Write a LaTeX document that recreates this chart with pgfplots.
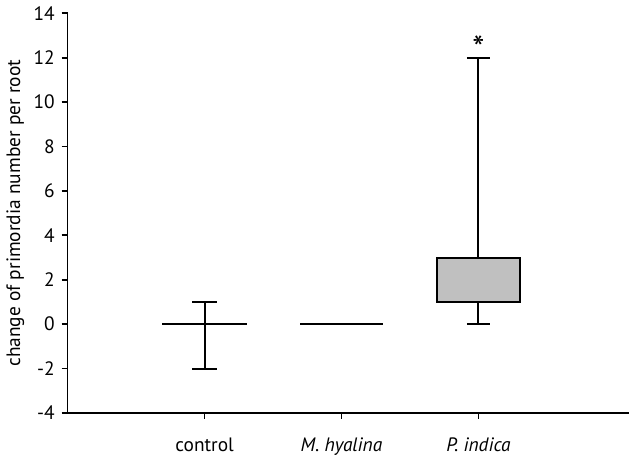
\documentclass[border=0pt]{standalone}
\usepackage{fontspec}
\setmainfont{PT Sans}
\usepackage{pgfplots}
\pgfplotsset{compat=1.18}
\definecolor{boxgray}{RGB}{192,192,192}

\begin{document}
\fontsize{9.7}{11}\selectfont
\begin{tikzpicture}
\begin{axis}[
    width=281pt, height=200pt,
    scale only axis,
    axis lines=left,
    axis line style={-, line width=0.9pt},
    xmin=0, xmax=4.1,
    ymin=-4, ymax=14,
    ytick={-4,-2,0,2,4,6,8,10,12,14},
    xtick={1,2,3},
    xticklabels={control, \textit{M. hyalina}, \textit{P. indica}},
    tick align=outside,
    major tick length=3pt,
    tick style={line width=0.9pt, black},
    xticklabel style={yshift=-6pt},
    ylabel={change of primordia number per root},
    ylabel style={yshift=-2pt},
    /pgf/number format/assume math mode=true,
    seg/.style={black, solid, line width=1pt, mark=none},
    clip=false,
]
% control: box collapses to 0, whiskers -2 .. 1
\addplot[seg] coordinates {(0.69,0) (1.31,0)};
\addplot[seg] coordinates {(1,-2) (1,1)};
\addplot[seg] coordinates {(0.912,-2) (1.088,-2)};
\addplot[seg] coordinates {(0.912,1) (1.088,1)};
% M. hyalina: all values 0
\addplot[seg] coordinates {(1.70,0) (2.30,0)};
% P. indica: box 1 .. 3, whiskers 0 .. 12
\addplot[seg] coordinates {(3,0) (3,1)};
\addplot[seg] coordinates {(3,3) (3,12)};
\addplot[seg] coordinates {(2.915,0) (3.085,0)};
\addplot[seg] coordinates {(2.915,12) (3.085,12)};
\addplot[seg, fill=boxgray] coordinates {(2.695,1) (3.305,1) (3.305,3) (2.695,3)} -- cycle;
\node[font=\LARGE] at (axis cs:3,12.45) {*};
\end{axis}
\end{tikzpicture}
\end{document}
